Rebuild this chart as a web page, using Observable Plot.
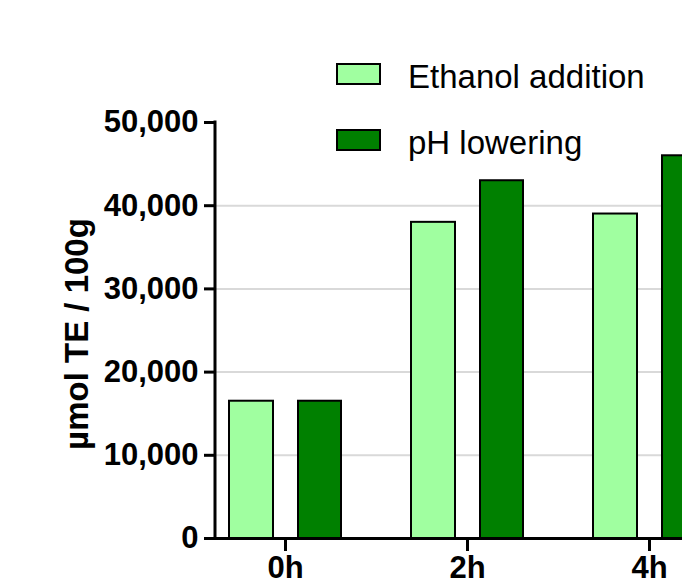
<!DOCTYPE html>
<html>
<head>
<meta charset="utf-8">
<script src="https://cdn.jsdelivr.net/npm/d3@7"></script>
<script src="https://cdn.jsdelivr.net/npm/@observablehq/plot@0.6"></script>
<style>
  html, body { margin: 0; padding: 0; overflow: hidden; background: white; }
  #wrap { position: relative; width: 682px; height: 585px; overflow: hidden; font-family: "Liberation Sans", Arial, sans-serif; }
  #wrap svg { max-width: none !important; width: 740px; height: 585px; }
  .lg-row { position: absolute; left: 336px; height: 40px; }
  .lg-sw { position: absolute; left: 0; width: 41px; height: 18px; border: 2px solid black; }
  .lg-tx { position: absolute; left: 72px; font-size: 33px; line-height: 32px; white-space: nowrap; color: black; }
</style>
</head>
<body>
<div id="wrap"></div>
<script>
const categories = ["0h", "2h", "4h"];
const seriesNames = ["Ethanol addition", "pH lowering"];
const ethanolValues = [16500, 38000, 39000];
const phValues = [16500, 43000, 46000];
const seriesColors = ["#a0ffa0", "#008000"];
const yTicks = [0, 10000, 20000, 30000, 40000, 50000];
const gridTicks = [10000, 20000, 30000, 40000];
const yLabel = "µmol TE / 100g";

const ethRows = categories.map((c, i) => ({category: c, value: ethanolValues[i]}));
const phRows = categories.map((c, i) => ({category: c, value: phValues[i]}));

const chart = Plot.plot({
  width: 740,
  height: 585,
  marginLeft: 215,
  marginRight: 21,
  marginTop: 122,
  marginBottom: 47,
  style: {fontFamily: "'Liberation Sans', Arial, sans-serif", background: "white", color: "black", maxWidth: "none"},
  x: {domain: categories, paddingInner: 42 / 182, paddingOuter: 0},
  y: {domain: [0, 50000]},
  marks: [
    Plot.ruleY(gridTicks, {stroke: "#d9d9d9", strokeWidth: 2}),
    Plot.barY(ethRows, {x: "category", y: "value", fill: seriesColors[0], stroke: "black", strokeWidth: 2, insetLeft: 14, insetRight: 82}),
    Plot.barY(phRows, {x: "category", y: "value", fill: seriesColors[1], stroke: "black", strokeWidth: 2, insetLeft: 83, insetRight: 14}),
    Plot.ruleY([0], {stroke: "black", strokeWidth: 3}),
    Plot.axisY({ticks: yTicks, tickSize: 11, tickPadding: 6, tickFormat: d3.format(","), fontSize: 31, fontWeight: "bold", strokeWidth: 3, label: null}),
    Plot.axisX({tickSize: 13, tickPadding: 4, fontSize: 31, fontWeight: "bold", strokeWidth: 3, label: null})
  ]
});

const wrap = document.getElementById("wrap");
wrap.appendChild(chart);

const svg = d3.select(chart);
// y axis line
const xr = chart.scale("x").range;
const yr = chart.scale("y").range;
svg.append("line")
  .attr("x1", xr[0]).attr("x2", xr[0])
  .attr("y1", Math.min(...yr) - 1.5).attr("y2", Math.max(...yr) + 1.5)
  .attr("stroke", "black").attr("stroke-width", 3);

// y axis title
svg.append("text")
  .attr("transform", `translate(88,${(yr[0] + yr[1]) / 2 + 4}) rotate(-90)`)
  .attr("text-anchor", "middle")
  .attr("font-size", 33)
  .attr("font-weight", "bold")
  .attr("fill", "black")
  .text(yLabel);

// legend
seriesNames.forEach((name, i) => {
  const row = document.createElement("div");
  row.className = "lg-row";
  row.style.top = (61 + i * 66) + "px";
  const sw = document.createElement("div");
  sw.className = "lg-sw";
  sw.style.top = "2px";
  sw.style.background = seriesColors[i];
  const tx = document.createElement("div");
  tx.className = "lg-tx";
  tx.style.top = "0px";
  tx.textContent = name;
  row.appendChild(sw);
  row.appendChild(tx);
  wrap.appendChild(row);
});
</script>
</body>
</html>
